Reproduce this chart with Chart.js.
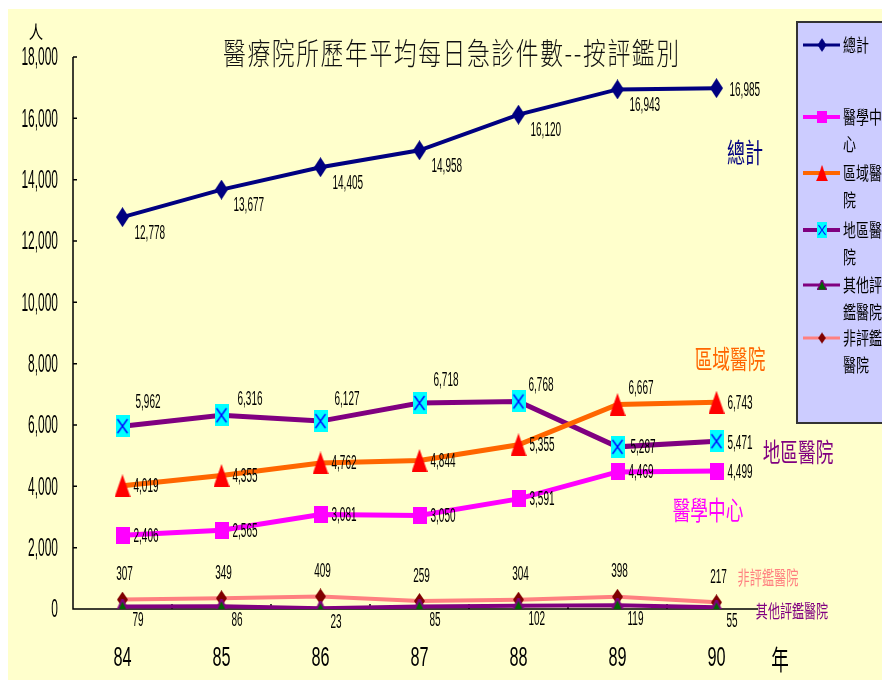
<!DOCTYPE html>
<html>
<head>
<meta charset="utf-8">
<script src="https://cdn.jsdelivr.net/npm/chart.js@4/dist/chart.umd.min.js"></script>
<style>
  html, body { margin: 0; padding: 0; background: #fff; }
  #c { display: block; }
</style>
</head>
<body>
<canvas id="c" width="882" height="680"></canvas>
<script>
const years = ["84", "85", "86", "87", "88", "89", "90"]
const yTickValues = [0, 2000, 4000, 6000, 8000, 10000, 12000, 14000, 16000, 18000]

const total = [12778, 13677, 14405, 14958, 16120, 16943, 16985]
const medicalCenter = [2406, 2565, 3081, 3050, 3591, 4469, 4499]
const regional = [4019, 4355, 4762, 4844, 5355, 6667, 6743]
const district = [5962, 6316, 6127, 6718, 6768, 5287, 5471]
const otherAccredited = [79, 86, 23, 85, 102, 119, 55]
const nonAccredited = [307, 349, 409, 259, 304, 398, 217]

const NUM = "'Liberation Sans', Arial, sans-serif"
const CJK = "'Noto Sans CJK TC', 'Noto Sans CJK SC', sans-serif"

// marker images, drawn once on small canvases
function marker(w, h, draw) {
  const m = document.createElement("canvas")
  m.width = w
  m.height = h
  draw(m.getContext("2d"), w, h)
  return m
}
const diamond = (fill) => (g, w, h) => {
  g.fillStyle = fill
  g.beginPath()
  g.moveTo(w / 2, 0); g.lineTo(w, h / 2); g.lineTo(w / 2, h); g.lineTo(0, h / 2)
  g.closePath(); g.fill()
}
const triangle = (fill, stroke) => (g, w, h) => {
  g.fillStyle = fill
  g.beginPath()
  g.moveTo(w / 2, 0); g.lineTo(w, h); g.lineTo(0, h)
  g.closePath(); g.fill()
  if (stroke) { g.strokeStyle = stroke; g.lineWidth = 2; g.stroke() }
}
const mkTotal = marker(13, 20, diamond("#000080"))
const mkCenter = marker(14, 17, (g, w, h) => { g.fillStyle = "#FF00FF"; g.fillRect(0, 0, w, h) })
const mkRegional = marker(16, 23, triangle("#FF0000"))
const mkDistrict = marker(14, 22, (g, w, h) => {
  g.fillStyle = "#00FFFF"; g.fillRect(0, 0, w, h)
  g.strokeStyle = "#0000FF"; g.lineWidth = 1.3
  g.beginPath(); g.moveTo(2, 4); g.lineTo(w - 2, h - 4); g.moveTo(w - 2, 4); g.lineTo(2, h - 4); g.stroke()
})
const mkOther = marker(14, 15, triangle("#006600", "#800080"))
const mkNon = marker(11, 16, diamond("#800000"))

function txt(ctx, s, x, y, o) {
  ctx.save()
  ctx.font = (o.weight || "normal") + " " + o.size + "px " + (o.family || NUM)
  ctx.fillStyle = o.color || "#000"
  ctx.textBaseline = "middle"
  ctx.textAlign = o.align || "left"
  ctx.translate(x, y)
  ctx.scale(o.sx || 1, 1)
  ctx.fillText(s, 0, 0)
  ctx.restore()
}

const frame = {
  id: "frame",
  beforeDraw(chart) {
    const ctx = chart.ctx
    ctx.save()
    ctx.fillStyle = "#FFFFCC"
    ctx.fillRect(8, 9, chart.width - 8, chart.height - 9)
    ctx.restore()
  },
  beforeDatasetsDraw(chart) {
    const ctx = chart.ctx
    const { x, y } = chart.scales
    const a = chart.chartArea
    ctx.save()
    ctx.strokeStyle = "#000"
    ctx.lineWidth = 1.5
    ctx.beginPath()
    ctx.moveTo(a.left, a.top); ctx.lineTo(a.left, a.bottom); ctx.lineTo(a.right - 8, a.bottom)
    y.ticks.forEach(t => {
      const py = y.getPixelForValue(t.value)
      ctx.moveTo(a.left, py); ctx.lineTo(a.left + 4, py)
    })
    for (let i = 1; i < years.length; i++) {
      const px = a.left + (a.right - a.left) * i / years.length
      ctx.moveTo(px, a.bottom); ctx.lineTo(px, a.bottom - 5)
    }
    ctx.stroke()
    ctx.restore()

    y.ticks.forEach(t => {
      txt(ctx, t.value.toLocaleString("en-US"), a.left - 15, y.getPixelForValue(t.value) + 1, { size: 26, sx: 0.46, align: "right" })
    })
    x.ticks.forEach((t, i) => {
      txt(ctx, years[i], x.getPixelForTick(i), 658, { size: 28, sx: 0.58, align: "center" })
    })
    txt(ctx, "人", 36, 32, { size: 18, sx: 0.8, family: CJK, align: "center" })
    txt(ctx, "年", 780, 660, { size: 27, sx: 0.65, family: CJK, align: "center" })

    // title, drawn char by char for the wide spacing
    const title = "醫療院所歷年平均每日急診件數--按評鑑別"
    ctx.save()
    ctx.font = "300 30px " + CJK
    const sx = 0.76, gap = 1.6
    const widths = [...title].map(ch => ctx.measureText(ch).width * sx + gap)
    const totalW = widths.reduce((s, w) => s + w, 0) - gap
    ctx.restore()
    let tx = 451 - totalW / 2
    ;[...title].forEach((ch, i) => {
      txt(ctx, ch, tx, 53, { size: 30, sx, family: CJK, weight: "300", color: "#111" })
      tx += widths[i]
    })
  },
  afterDatasetsDraw(chart) {
    const ctx = chart.ctx
    chart.data.datasets.forEach((ds, di) => {
      const meta = chart.getDatasetMeta(di)
      const lo = ds.labelOffset
      meta.data.forEach((pt, i) => {
        const [dx, dy] = (lo.at && lo.at[i]) || [lo.dx, lo.dy]
        txt(ctx, ds.data[i].toLocaleString("en-US"), pt.x + dx, pt.y + dy, { size: 20, sx: 0.5, align: lo.align || "left" })
      })
    })

    // series names beside the lines
    txt(ctx, "總計", 745, 153, { size: 27, sx: 0.67, family: CJK, color: "#000080", align: "center" })
    txt(ctx, "區域醫院", 730, 359, { size: 26, sx: 0.68, family: CJK, color: "#FF6600", align: "center" })
    txt(ctx, "地區醫院", 798, 452, { size: 26, sx: 0.68, family: CJK, color: "#800080", align: "center" })
    txt(ctx, "醫學中心", 708, 510, { size: 26, sx: 0.68, family: CJK, color: "#FF00FF", align: "center" })
    txt(ctx, "非評鑑醫院", 768, 578, { size: 19, sx: 0.64, family: CJK, color: "#FF8080", align: "center" })
    txt(ctx, "其他評鑑醫院", 792, 611, { size: 18, sx: 0.67, family: CJK, color: "#800080", align: "center" })

    // legend box, cut by the right edge as in the original
    ctx.save()
    ctx.fillStyle = "#CCCCFF"
    ctx.fillRect(797, 22, 100, 401)
    ctx.strokeStyle = "#333"
    ctx.lineWidth = 2
    ctx.strokeRect(797, 22, 100, 401)
    ctx.restore()
    const rows = [45, 117, 173, 230, 285, 338]
    chart.data.datasets.forEach((ds, di) => {
      const ly = rows[di]
      ctx.save()
      ctx.strokeStyle = ds.borderColor
      ctx.lineWidth = Math.max(3, ds.borderWidth - 1)
      ctx.beginPath(); ctx.moveTo(803, ly); ctx.lineTo(840, ly); ctx.stroke()
      const m = ds.pointStyle
      const s = 0.7
      ctx.drawImage(m, 822 - m.width * s / 2, ly - m.height * s / 2, m.width * s, m.height * s)
      ctx.restore()
      const chars = [...ds.label]
      txt(ctx, chars.slice(0, 3).join(""), 843, ly, { size: 18, sx: 0.72, family: CJK })
      if (chars.length > 3) txt(ctx, chars.slice(3).join(""), 843, ly + 27, { size: 18, sx: 0.72, family: CJK })
    })
  }
}

const line = (label, data, color, width, pointStyle, labelOffset) => ({
  label, data, borderColor: color, backgroundColor: color, borderWidth: width,
  pointStyle, pointRadius: 6, pointHoverRadius: 6, tension: 0, labelOffset
})

new Chart(document.getElementById("c"), {
  type: "line",
  data: {
    labels: years,
    datasets: [
      line("總計", total, "#000080", 4, mkTotal, { dx: 12, dy: 16, at: { 6: [13, 2] } }),
      line("醫學中心", medicalCenter, "#FF00FF", 5, mkCenter, { dx: 11, dy: 1 }),
      line("區域醫院", regional, "#FF6600", 5, mkRegional, { dx: 11, dy: 1, at: { 5: [11, -16] } }),
      line("地區醫院", district, "#800080", 5, mkDistrict, { dx: 14, dy: -22, at: { 0: [13, -24], 1: [16, -16], 4: [10, -16], 5: [13, 1], 6: [11, 2] } }),
      line("其他評鑑醫院", otherAccredited, "#800080", 4, mkOther, { dx: 10, dy: 14 }),
      line("非評鑑醫院", nonAccredited, "#FF8080", 4, mkNon, { dx: 2, dy: -25, align: "center" })
    ]
  },
  options: {
    responsive: false,
    animation: false,
    devicePixelRatio: 1,
    layout: { padding: { top: 57, right: 116, left: 0, bottom: 0 } },
    plugins: { legend: { display: false }, title: { display: false }, tooltip: { enabled: false } },
    scales: {
      x: {
        offset: true,
        grid: { display: false },
        border: { display: false },
        ticks: { display: false },
        afterFit: s => { s.height = 71 }
      },
      y: {
        min: 0,
        max: 18000,
        grid: { display: false },
        border: { display: false },
        ticks: { display: false },
        afterBuildTicks: s => { s.ticks = yTickValues.map(v => ({ value: v })) },
        afterFit: s => { s.width = 73 }
      }
    }
  },
  plugins: [frame]
})
</script>
</body>
</html>
